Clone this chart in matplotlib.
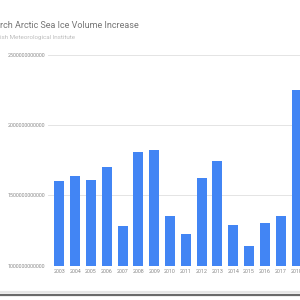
import matplotlib.pyplot as plt
from matplotlib.lines import Line2D

years = ['2003', '2004', '2005', '2006', '2007', '2008', '2009', '2010',
         '2011', '2012', '2013', '2014', '2015', '2016', '2017', '2018']
volume = [1.606e12, 1.636e12, 1.613e12, 1.703e12, 1.286e12, 1.813e12, 1.823e12, 1.351e12,
          1.224e12, 1.622e12, 1.748e12, 1.288e12, 1.139e12, 1.302e12, 1.351e12, 2.250e12]
yticks = [1.0e12, 1.5e12, 2.0e12, 2.5e12]
title = 'rch Arctic Sea Ice Volume Increase'
subtitle = 'ish Meteorological Institute'

plt.rcParams['font.family'] = ['Roboto', 'DejaVu Sans']

fig = plt.figure(figsize=(3, 3), dpi=100)
fig.patch.set_facecolor('white')

# axes spans from gridline start to the right edge of the picture
ax = fig.add_axes([48 / 300, 34.3 / 300, 252 / 300, 210.7 / 300])
x = list(range(len(years)))
ax.bar(x, volume, width=0.63, color='#4285f4', zorder=3)

ax.set_xlim(-0.72, 15.22)
ax.set_ylim(1.0e12, 2.5e12)
ax.set_yticks(yticks)
ax.set_yticklabels(['%d' % v for v in yticks])
ax.set_xticks(x)
ax.set_xticklabels(years)
ax.tick_params(axis='both', length=0, labelsize=3.9, labelcolor='#8a8a8a')
ax.tick_params(axis='y', pad=2.2)
ax.tick_params(axis='x', pad=2.5)
ax.grid(axis='y', color='#e4e4e4', linewidth=0.7, zorder=0)
for s in ax.spines.values():
    s.set_visible(False)
ax.axhline(1.0e12, color='#cfcfcf', linewidth=0.7, zorder=4)

fig.text(0.0, 1 - 25 / 300, title, fontsize=6.45, color='#757575', va='center', ha='left')
fig.text(0.0, 1 - 37.7 / 300, subtitle, fontsize=4.5, color='#bdbdbd', va='center', ha='left')

# screenshot border at the bottom
fig.add_artist(Line2D([0, 1], [1 - 291.5 / 300] * 2, color='#e6e6e6', linewidth=1.5))
fig.add_artist(Line2D([0, 1], [1 - 294.5 / 300] * 2, color='#6a6a6a', linewidth=1.6))

fig.savefig('out.png', dpi=100)
